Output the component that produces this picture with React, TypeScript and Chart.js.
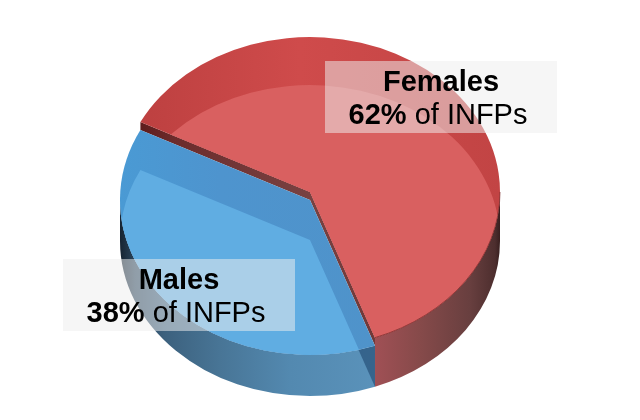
import React, { useEffect, useRef } from "react";
import { Chart, registerables } from "chart.js";

Chart.register(...registerables);

const categories = ["Females", "Males"];
const shares = [62, 38];
const suffix = " of INFPs";
const faceColors = ["#d96060", "#60ade2"];
const startRotation = -63.2;

// Drawing style of the tilted pie
const centerX = 310;
const floorY = 241;
const squash = 155 / 190;
const sliceTopY = [192, 200];
const sheenStops = [
  [[120, "#bb3f3f"], [300, "#cf4b4b"], [500, "#c24444"]],
  [[120, "#4a9ad4"], [220, "#4e94ce"], [380, "#4f93ca"]],
] as [number, string][][];
const wallStops = [
  [[375, "#a05055"], [420, "#864a4a"], [470, "#683f3f"], [495, "#4d2e2e"], [501, "#341c1c"]],
  [[119, "#15222f"], [135, "#2b465d"], [165, "#3c617e"], [220, "#487596"], [290, "#5389b0"], [375, "#5a92ba"]],
] as [number, string][][];
const labelBoxes = [
  { x: 325, y: 61, w: 232, h: 72, base1: 91, base2: 124 },
  { x: 63, y: 259, w: 232, h: 72, base1: 289, base2: 322 },
];

function hGradient(ctx: CanvasRenderingContext2D, stops: [number, string][]) {
  const x0 = stops[0][0];
  const x1 = stops[stops.length - 1][0];
  const g = ctx.createLinearGradient(x0, 0, x1, 0);
  stops.forEach(([x, c]) => g.addColorStop((x - x0) / (x1 - x0), c));
  return g;
}

const pie3d = {
  id: "pie3d",
  beforeDatasetDraw(chart: any) {
    const ctx: CanvasRenderingContext2D = chart.ctx;
    const arcs = chart.getDatasetMeta(0).data;
    const R = arcs[0].outerRadius;
    const ry = R * squash;

    const slicePath = (arc: any, cy: number) => {
      ctx.beginPath();
      ctx.moveTo(centerX, cy);
      ctx.ellipse(centerX, cy, R, ry, 0, arc.startAngle, arc.endAngle);
      ctx.closePath();
    };
    const place = (arc: any, cy: number) => {
      ctx.translate(centerX, cy);
      ctx.scale(1, squash);
      ctx.translate(-arc.x, -arc.y);
    };

    // outer walls
    arcs.forEach((arc: any, i: number) => {
      const a0 = Math.max(arc.startAngle, 0);
      const a1 = Math.min(arc.endAngle, Math.PI);
      if (a1 <= a0) return;
      const top = sliceTopY[i];
      ctx.save();
      ctx.beginPath();
      ctx.ellipse(centerX, top, R, ry, 0, a0, a1);
      ctx.ellipse(centerX, floorY, R, ry, 0, a1, a0, true);
      ctx.closePath();
      ctx.fillStyle = hGradient(ctx, wallStops[i]);
      ctx.fill();
      if (i === 1) {
        ctx.clip();
        const ax = centerX + R * Math.cos(arc.startAngle);
        const ay = floorY + ry * Math.sin(arc.startAngle);
        ctx.beginPath();
        ctx.moveTo(centerX, floorY);
        ctx.lineTo(ax, ay);
        ctx.lineTo(ax, top);
        ctx.lineTo(centerX, top);
        ctx.closePath();
        ctx.fillStyle = "rgba(30,70,110,0.6)";
        ctx.fill();
      }
      ctx.restore();
    });

    // cut face of the first slice, seen where the second one sits lower
    const a = arcs[0];
    const y0 = sliceTopY[0];
    const y1 = sliceTopY[1];
    const px = (ang: number) => centerX + R * Math.cos(ang);
    const py = (ang: number, cy: number) => cy + ry * Math.sin(ang);
    ctx.beginPath();
    ctx.moveTo(px(a.startAngle), py(a.startAngle, y0));
    ctx.lineTo(centerX, y0);
    ctx.lineTo(px(a.endAngle), py(a.endAngle, y0));
    ctx.lineTo(px(a.endAngle), py(a.endAngle, y1));
    ctx.lineTo(centerX, y1);
    ctx.lineTo(px(a.startAngle), py(a.startAngle, y1));
    ctx.closePath();
    ctx.fillStyle = hGradient(ctx, [[140, "#5e1c1c"], [175, "#6c2c2c"], [310, "#784242"], [375, "#703838"]]);
    ctx.fill();

    // top faces: dark sheen, then the library's arc shifted down and clipped
    [1, 0].forEach((i) => {
      const arc = arcs[i];
      const cy = sliceTopY[i];
      slicePath(arc, cy);
      ctx.fillStyle = hGradient(ctx, sheenStops[i]);
      ctx.fill();
      ctx.save();
      slicePath(arc, cy);
      ctx.clip();
      place(arc, floorY - 1);
      arc.draw(ctx);
      ctx.restore();
      if (i === 0) {
        ctx.beginPath();
        ctx.ellipse(centerX, cy, R, ry, 0, 0, arc.endAngle);
        ctx.strokeStyle = "rgba(120,40,40,0.7)";
        ctx.lineWidth = 1;
        ctx.stroke();
      }
    });
    return false;
  },
  afterDatasetsDraw(chart: any) {
    const ctx: CanvasRenderingContext2D = chart.ctx;
    categories.forEach((name, i) => {
      const b = labelBoxes[i];
      const mid = b.x + b.w / 2;
      ctx.fillStyle = "rgba(238,238,238,0.52)";
      ctx.fillRect(b.x, b.y, b.w, b.h);
      ctx.fillStyle = "#000";
      ctx.textBaseline = "alphabetic";
      ctx.textAlign = "left";
      const bold = 'bold 29px "Liberation Sans"';
      const normal = '29px "Liberation Sans"';
      ctx.font = bold;
      ctx.fillText(name, mid - ctx.measureText(name).width / 2, b.base1);
      const pct = `${shares[i]}%`;
      const w1 = ctx.measureText(pct).width;
      ctx.font = normal;
      const w2 = ctx.measureText(suffix).width;
      const x = mid - (w1 + w2) / 2 - 3;
      ctx.font = bold;
      ctx.fillText(pct, x, b.base2);
      ctx.font = normal;
      ctx.fillText(suffix, x + w1, b.base2);
    });
  },
};

export default function App() {
  const ref = useRef<HTMLCanvasElement>(null);
  useEffect(() => {
    const chart = new Chart(ref.current!, {
      type: "pie",
      data: {
        labels: categories,
        datasets: [{ data: shares, backgroundColor: faceColors, borderWidth: 0 }],
      },
      options: {
        animation: false,
        responsive: false,
        rotation: startRotation,
        layout: { padding: { top: 20, bottom: 20, left: 0, right: 0 } },
        plugins: { legend: { display: false }, tooltip: { enabled: false } },
      },
      plugins: [pie3d],
    } as any);
    return () => chart.destroy();
  }, []);
  return (
    <div style={{ position: "absolute", left: 0, top: 0, width: 640, height: 420, background: "#fff" }}>
      <canvas ref={ref} width={640} height={420} style={{ display: "block" }} />
    </div>
  );
}
